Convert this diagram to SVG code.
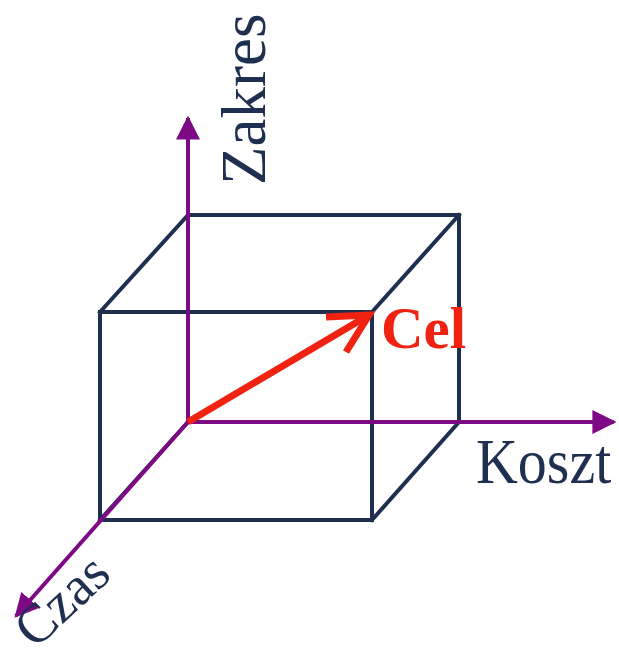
<svg xmlns="http://www.w3.org/2000/svg" width="619" height="661" viewBox="0 0 619 661">
<style>
.cube{fill:none;stroke:#1f2f50;stroke-width:4;stroke-linejoin:miter;stroke-linecap:square}
.axis{fill:none;stroke:#7d0a84;stroke-width:4}
.lbl{font-family:"Liberation Serif","Times New Roman",serif;fill:#1f2f50}
</style>
<defs>
<marker id="ah" viewBox="0 0 10 10" refX="9" refY="5" markerWidth="6" markerHeight="6" markerUnits="strokeWidth" orient="auto">
<path d="M0,0 L10,5 L0,10 z" fill="#7d0a84"/>
</marker>
</defs>
<rect width="619" height="661" fill="#fff"/>
<g id="cube">
<path class="cube" d="M188,215 L459,215 L459,422 L188,422 Z"/>
<path class="cube" d="M100,312 L372,312 L372,520 L100,520 Z"/>
<path class="cube" d="M100,312 L188,215 M372,312 L459,215 M372,520 L459,422 M100,520 L188,422"/>
</g>
<g id="connectors">
<line class="axis" x1="188" y1="422" x2="188" y2="118" marker-end="url(#ah)"/>
<line class="axis" x1="188" y1="422" x2="614" y2="422" marker-end="url(#ah)"/>
<line class="axis" x1="188" y1="422" x2="16" y2="616" marker-end="url(#ah)"/>
<g id="cel-arrow" stroke="#f02212" stroke-width="7" fill="none" stroke-linecap="butt">
<line x1="188" y1="422" x2="369" y2="315"/>
<polyline points="326,317 369,315 346,352" stroke-linejoin="miter"/>
</g>
</g>
<g id="zakres"><text class="lbl" font-size="63" transform="translate(265,185) rotate(-90)">Zakres</text></g>
<g id="koszt"><text class="lbl" font-size="58" transform="translate(476,483) scale(1,1.1)">Koszt</text></g>
<g id="czas"><text class="lbl" font-size="55" transform="translate(35,650) rotate(-43)">Czas</text></g>
<g id="cel"><text font-family="'Liberation Serif','Times New Roman',serif" font-weight="bold" font-size="59" fill="#f02212" x="381" y="348">Cel</text></g>
</svg>
